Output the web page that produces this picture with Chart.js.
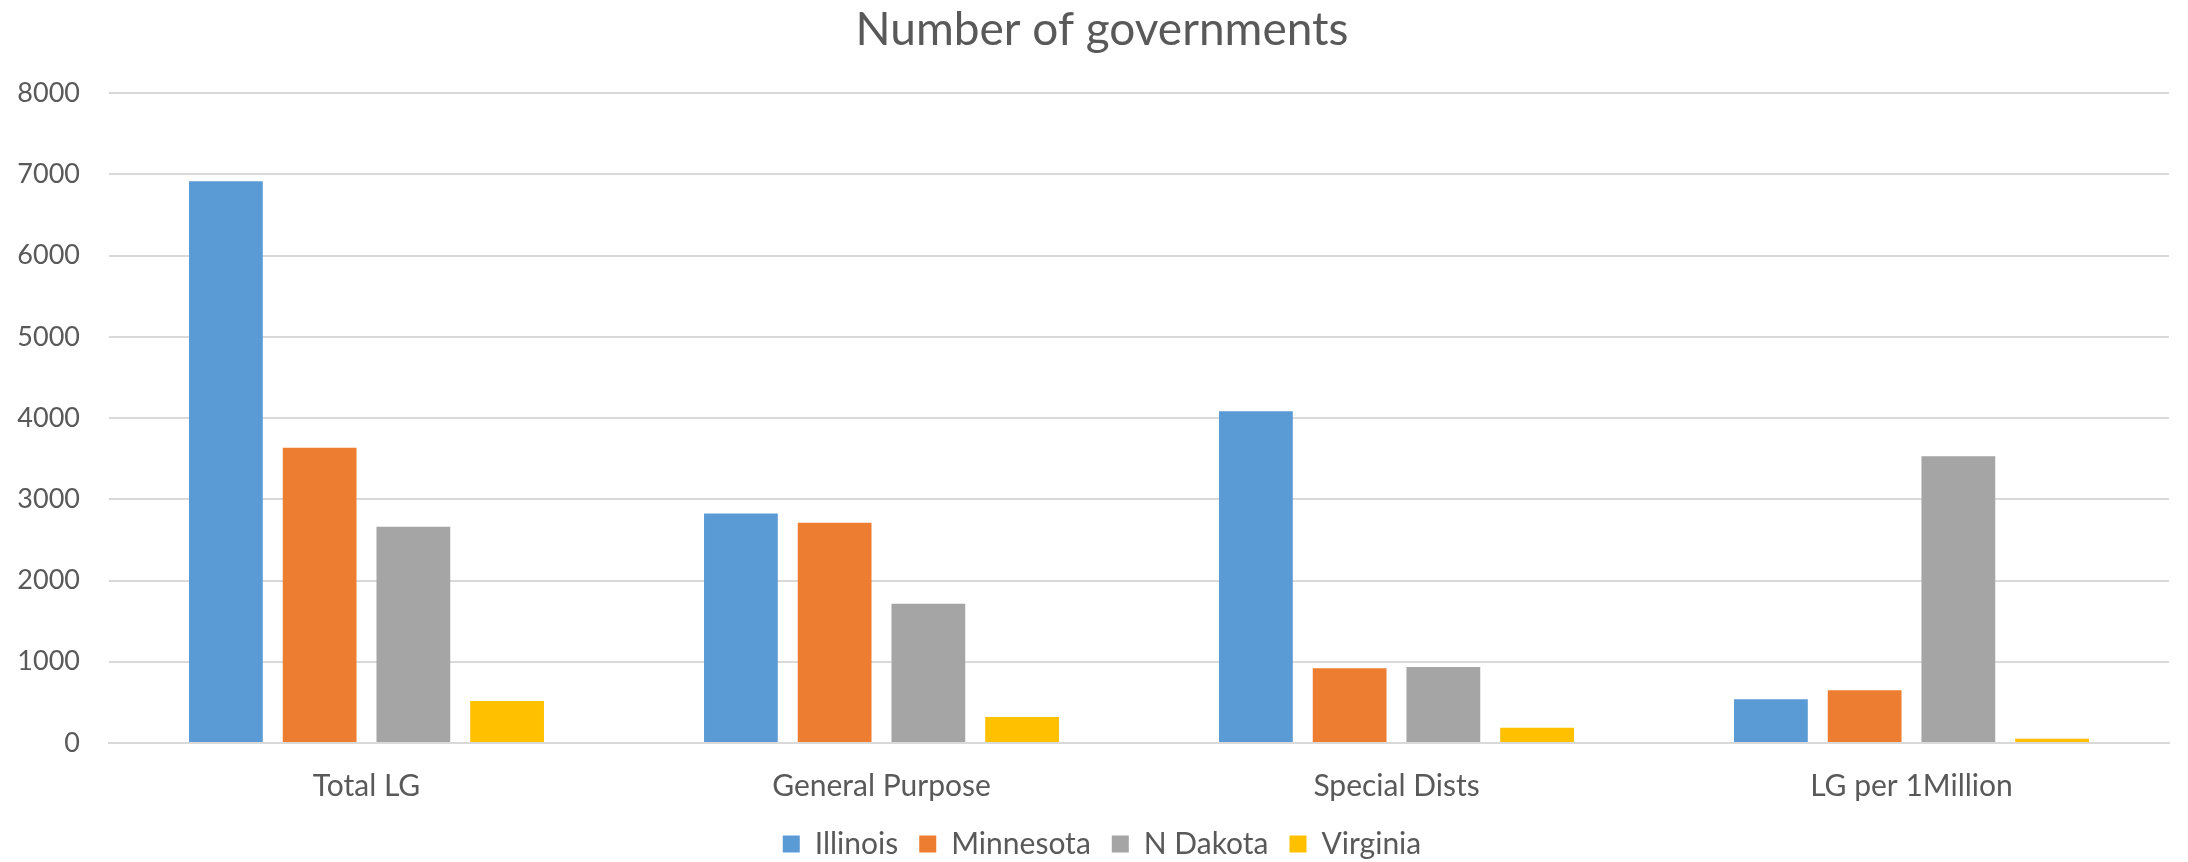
<!DOCTYPE html>
<html>
<head>
<meta charset="utf-8">
<script src="https://cdn.jsdelivr.net/npm/chart.js@4/dist/chart.umd.min.js"></script>
<style>
  html, body { margin: 0; padding: 0; background: #fff; }
  #wrap { width: 2188px; height: 862px; position: relative; }
</style>
</head>
<body>
<div id="wrap"><canvas id="chart1"></canvas></div>
<script>
// values
const categories = ['Total LG', 'General Purpose', 'Special Dists', 'LG per 1Million'];
const illinois = [6915, 2824, 4085, 539];
const minnesota = [3636, 2713, 921, 650];
const nDakota = [2663, 1714, 937, 3531];
const virginia = [518, 321, 189, 53];

const textColor = '#595959';
const font = 'Lato, "Open Sans", sans-serif';

const ctx = document.getElementById('chart1');

new Chart(ctx, {
    type: 'bar',
    data: {
        labels: categories,
        datasets: [
            { label: 'Illinois', data: illinois, backgroundColor: '#5B9BD5' },
            { label: 'Minnesota', data: minnesota, backgroundColor: '#ED7D31' },
            { label: 'N Dakota', data: nDakota, backgroundColor: '#A5A5A5' },
            { label: 'Virginia', data: virginia, backgroundColor: '#FFC000' }
        ]
    },
    options: {
        responsive: true,
        maintainAspectRatio: false,
        animation: false,
        datasets: {
            bar: { categoryPercentage: 0.728, barPercentage: 0.787 }
        },
        // negative right padding + empty right axis: title/legend sit a bit right of centre like the original
        layout: { padding: { left: 0, right: -16, top: 3, bottom: -7 } },
        plugins: {
            title: {
                display: true,
                text: 'Number of governments',
                color: textColor,
                font: { family: font, size: 46, weight: 'normal' },
                padding: { top: 0, bottom: 35 }
            },
            legend: {
                position: 'bottom',
                labels: {
                    color: textColor,
                    font: { family: font, size: 30 },
                    boxWidth: 17,
                    boxHeight: 17,
                    padding: 21
                }
            },
            tooltip: { enabled: false }
        },
        scales: {
            x: {
                grid: { display: false },
                border: { color: '#D9D9D9', width: 2 },
                afterFit: function (scale) { scale.height = scale.height - 13; },
                ticks: {
                    color: textColor,
                    font: { family: font, size: 30 },
                    padding: 17
                }
            },
            y: {
                min: 0,
                max: 8000,
                afterFit: function (scale) { scale.width = 109; },
                grid: { color: '#D9D9D9', lineWidth: 2, drawTicks: false },
                border: { display: false },
                ticks: {
                    stepSize: 1000,
                    color: textColor,
                    font: { family: font, size: 27 },
                    padding: 29,
                    callback: function (v) { return v; }
                }
            },
            yRight: {
                position: 'right',
                grid: { display: false },
                border: { display: false },
                ticks: { display: false },
                afterFit: function (scale) { scale.width = 35; }
            }
        }
    }
});
</script>
</body>
</html>
